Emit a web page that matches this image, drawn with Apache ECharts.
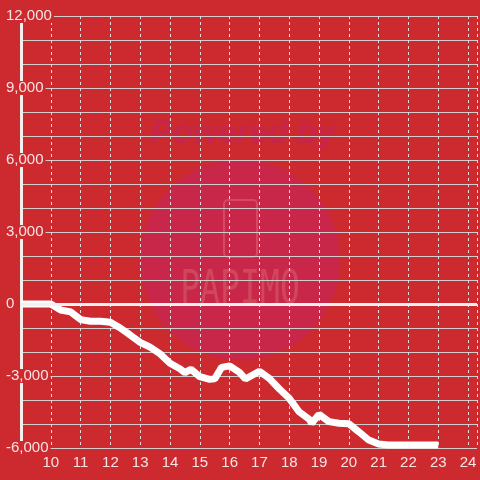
<!DOCTYPE html>
<html>
<head>
<meta charset="utf-8">
<script src="https://cdn.jsdelivr.net/npm/echarts@6/dist/echarts.min.js"></script>
<style>html,body{margin:0;padding:0;background:#cc2a2f;}#c{width:480px;height:480px;}</style>
</head>
<body>
<div id="c"></div>
<script>
const hours = [9, 10, 10.33, 10.67, 11, 11.33, 11.67, 12, 12.33, 12.67, 13, 13.33, 13.67, 14, 14.33, 14.5, 14.7, 15, 15.33, 15.5, 15.73, 16, 16.33, 16.53, 17, 17.33, 17.67, 18, 18.33, 18.67, 18.75, 19, 19.33, 19.67, 20, 20.33, 20.67, 21, 21.33, 22, 23];
const values = [0, 0, -250, -330, -650, -720, -720, -760, -1000, -1300, -1600, -1800, -2080, -2470, -2700, -2860, -2720, -3030, -3140, -3120, -2640, -2580, -2850, -3125, -2800, -3100, -3540, -3930, -4490, -4800, -4970, -4600, -4900, -4970, -4990, -5320, -5670, -5830, -5875, -5875, -5875];
const yTicks = [-6000, -3000, 0, 3000, 6000, 9000, 12000];

const chart = echarts.init(document.getElementById('c'), null, {renderer: 'canvas'});
const labelColor = '#f6e4e4';
chart.setOption({
  backgroundColor: '#cc2a2f',
  animation: false,
  graphic: [
    {type: 'circle', z: -10, shape: {cx: 240, cy: 260, r: 100}, style: {fill: '#c8274a'}},
    {type: 'text', z: -9, style: {text: 'Powered by', x: 243, y: 134, align: 'center', verticalAlign: 'middle', font: 'italic bold 33px Liberation Sans', fill: '#c6264a'}},
    {type: 'rect', z: -9, shape: {x: 224, y: 200, width: 33, height: 57, r: 4}, style: {fill: 'none', stroke: '#d44a5e', lineWidth: 2}},
    {type: 'text', z: -9, x: 240, y: 291, scaleX: 0.72, style: {text: 'PAPIMO', x: 0, y: 0, align: 'center', verticalAlign: 'middle', font: '46px DejaVu Sans Mono', fill: '#d0475b'}}
  ],
  grid: {left: 21, right: 0, top: 16, bottom: 32, containLabel: false},
  xAxis: {
    type: 'value', min: 9, max: 24.3, interval: 1,
    axisLine: {show: false},
    axisTick: {show: false},
    axisLabel: {
      color: labelColor, fontSize: 15, fontFamily: 'Liberation Sans', margin: 7,
      showMinLabel: false,
      formatter: function (v) { return (Number.isInteger(v) && v > 9) ? String(v) : ''; }
    },
    splitLine: {show: true, lineStyle: {color: '#e6dada', width: 1, type: [3, 3]}}
  },
  yAxis: {
    type: 'value', min: -6000, max: 12000, interval: 3000,
    axisLine: {show: true, lineStyle: {color: '#f4f0f0', width: 3}},
    axisTick: {show: false},
    minorTick: {show: false, splitNumber: 3},
    minorSplitLine: {show: true, lineStyle: {color: '#d4cccc', width: 1}},
    splitLine: {show: true, lineStyle: {color: '#d4cccc', width: 1}},
    axisLabel: {
      color: labelColor, fontSize: 15, fontFamily: 'Liberation Sans', margin: 15, align: 'left',
      backgroundColor: '#cc2a2f', padding: [0, 2, 0, 0], lineHeight: 14,
      formatter: function (v) { return yTicks.indexOf(v) >= 0 ? v.toLocaleString('en-US') : ''; }
    }
  },
  series: [{
    type: 'line',
    data: hours.map((h, i) => [h, values[i]]),
    showSymbol: false,
    lineStyle: {color: '#ffffff', width: 7},
    z: 3,
    markLine: {
      silent: true, symbol: 'none', label: {show: false},
      lineStyle: {color: '#f4f0f0', width: 3, type: 'solid'},
      data: [{yAxis: 0}]
    }
  }]
});
</script>
</body>
</html>
